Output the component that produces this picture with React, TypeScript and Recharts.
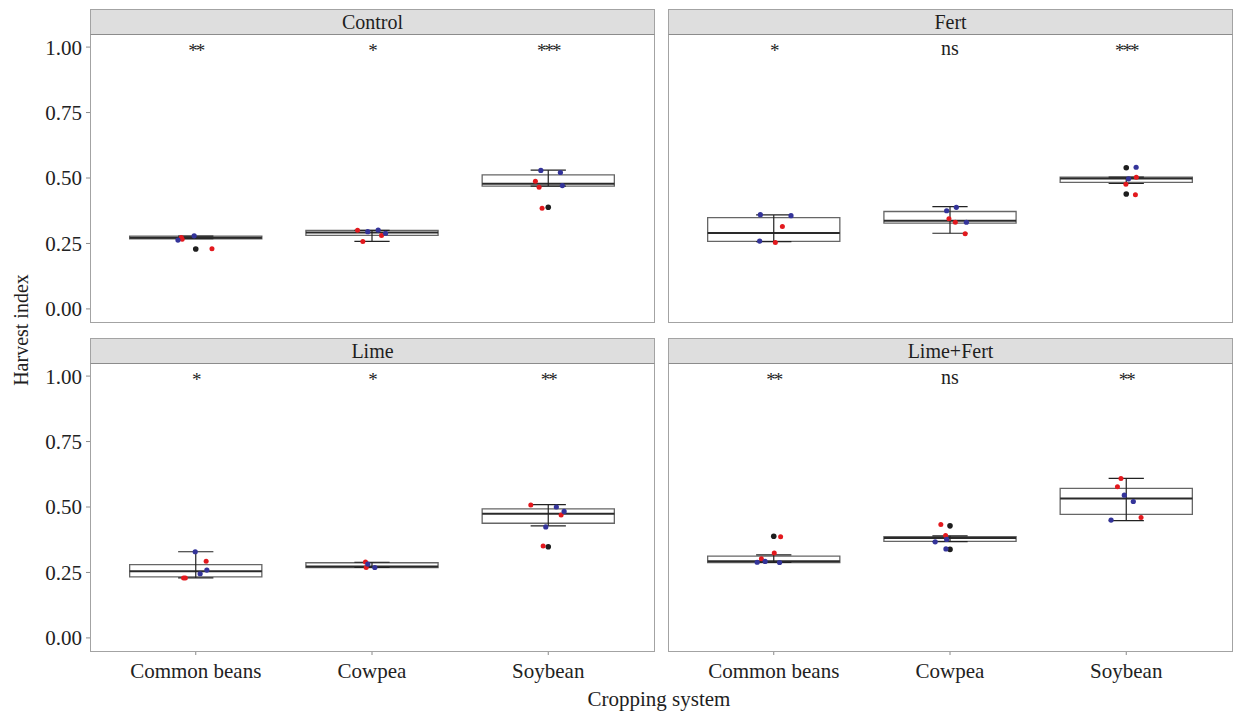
import { JSX } from 'react'
import { ComposedChart, XAxis, YAxis, Scatter, ReferenceArea, ReferenceLine } from 'recharts'

const crops = ['Common beans', 'Cowpea', 'Soybean']
const yTicks = [0, 0.25, 0.5, 0.75, 1]

// Box statistics per crop: [lower whisker, Q1, median, Q3, upper whisker]
const controlBox = [
  [0.268, 0.268, 0.272, 0.278, 0.278],
  [0.258, 0.281, 0.292, 0.3, 0.3],
  [0.469, 0.469, 0.478, 0.512, 0.53]
]
const fertBox = [
  [0.257, 0.258, 0.29, 0.349, 0.359],
  [0.289, 0.328, 0.337, 0.372, 0.391],
  [0.479, 0.483, 0.498, 0.503, 0.503]
]
const limeBox = [
  [0.229, 0.233, 0.255, 0.28, 0.329],
  [0.269, 0.269, 0.273, 0.287, 0.289],
  [0.428, 0.438, 0.474, 0.493, 0.509]
]
const limeFertBox = [
  [0.288, 0.288, 0.293, 0.312, 0.317],
  [0.368, 0.369, 0.382, 0.387, 0.39],
  [0.448, 0.472, 0.532, 0.571, 0.609]
]

// Jittered observations: [crop (1-3), jitter, harvest index]
const controlRed = [
  [1, -0.082, 0.273], [1, -0.077, 0.266], [1, 0.092, 0.23],
  [2, -0.082, 0.3], [2, 0.054, 0.28], [2, -0.052, 0.257],
  [3, -0.073, 0.488], [3, -0.052, 0.465], [3, -0.035, 0.384]
]
const controlBlue = [
  [1, -0.101, 0.263], [1, -0.009, 0.279],
  [2, -0.024, 0.295], [2, 0.035, 0.301], [2, 0.077, 0.289],
  [3, -0.042, 0.529], [3, 0.069, 0.521], [3, 0.08, 0.471]
]
const fertRed = [
  [1, 0.049, 0.315], [1, 0.009, 0.254],
  [2, -0.006, 0.344], [2, 0.03, 0.331], [2, 0.086, 0.287],
  [3, 0.057, 0.503], [3, -0.002, 0.476], [3, 0.052, 0.436]
]
const fertBlue = [
  [1, -0.076, 0.36], [1, 0.098, 0.356], [1, -0.08, 0.259],
  [2, 0.036, 0.388], [2, -0.019, 0.375], [2, 0.093, 0.331],
  [3, 0.056, 0.541], [3, 0.013, 0.497]
]
const limeRed = [
  [1, 0.059, 0.293], [1, -0.069, 0.229], [1, -0.059, 0.229],
  [2, -0.037, 0.29], [2, -0.033, 0.269],
  [3, -0.099, 0.508], [3, 0.073, 0.469], [3, -0.029, 0.351]
]
const limeBlue = [
  [1, -0.003, 0.329], [1, 0.063, 0.259], [1, 0.025, 0.245],
  [2, -0.024, 0.282], [2, 0.016, 0.269],
  [3, 0.046, 0.5], [3, 0.09, 0.483], [3, -0.014, 0.424]
]
const limeFertRed = [
  [1, 0.039, 0.386], [1, 0.003, 0.324], [1, -0.07, 0.302],
  [2, -0.052, 0.433], [2, -0.025, 0.391],
  [3, -0.03, 0.609], [3, -0.05, 0.577], [3, 0.084, 0.46]
]
const limeFertBlue = [
  [1, -0.094, 0.289], [1, -0.049, 0.292], [1, 0.033, 0.288],
  [2, -0.019, 0.376], [2, -0.084, 0.367], [2, -0.023, 0.34],
  [3, -0.011, 0.545], [3, 0.04, 0.521], [3, -0.086, 0.45]
]

// Boxplot outliers: [crop, harvest index]
const controlOut = [[1, 0.229], [3, 0.388]]
const fertOut = [[3, 0.539], [3, 0.439]]
const limeOut = [[3, 0.348]]
const limeFertOut = [[1, 0.388], [2, 0.428], [2, 0.338]]

// Significance labels per crop
const controlSig = ['**', '*', '***']
const fertSig = ['*', 'ns', '***']
const limeSig = ['*', '*', '**']
const limeFertSig = ['**', 'ns', '**']

const FONT = 'Liberation Serif'
const BOX_HALF = 0.375
const CAP_HALF = 0.1

interface PanelProps {
  box: number[][]
  red: number[][]
  blue: number[][]
  out: number[][]
  sig: string[]
  showX: boolean
  showY: boolean
}

function Panel({ box, red, blue, out, sig, showX, showY }: PanelProps): JSX.Element {
  const jit = (rows: number[][]) => rows.map(([c, j, v]) => ({ x: c + j, y: v }))
  const outPts = out.map(([c, v]) => ({ x: c, y: v }))
  const sigPts = sig.map((s, i) => ({ x: i + 1, y: 1, label: s }))
  const dot = (color: string, r: number) => (p: any) => (
    <circle cx={p.cx} cy={p.cy} r={r} fill={color} />
  )

  return (
    <ComposedChart
      width={(showY ? 90 : 0) + 564}
      height={288 + (showX ? 40 : 0)}
      margin={{ top: 0, right: 0, bottom: 0, left: 0 }}
      style={{ fontFamily: FONT }}
    >
      <XAxis
        type="number"
        dataKey="x"
        domain={[0.4, 3.6]}
        allowDataOverflow
        ticks={[1, 2, 3]}
        tickFormatter={(v) => crops[v - 1]}
        hide={!showX}
        height={40}
        axisLine={false}
        tickLine={{ stroke: '#8a8a8a' }}
        tickSize={4}
        tickMargin={8}
        tick={{ fill: '#222', fontSize: 21, fontFamily: FONT }}
        interval={0}
      />
      <YAxis
        type="number"
        dataKey="y"
        domain={[-0.05, 1.05]}
        allowDataOverflow
        ticks={yTicks}
        tickFormatter={(v) => v.toFixed(2)}
        hide={!showY}
        width={90}
        axisLine={false}
        tickLine={{ stroke: '#8a8a8a' }}
        tickSize={4}
        tickMargin={4}
        tick={{ fill: '#222', fontSize: 21, fontFamily: FONT }}
        interval={0}
      />
      {box.map(([lo, q1, md, q3, hi], i) => (
        <ReferenceArea
          key={`box-${i}`}
          x1={i + 1 - BOX_HALF}
          x2={i + 1 + BOX_HALF}
          y1={q1}
          y2={q3}
          fill="#fff"
          fillOpacity={1}
          stroke="#666"
          strokeWidth={1.3}
        />
      ))}
      {box.map(([lo, q1, md, q3, hi], i) => (
        <ReferenceLine
          key={`med-${i}`}
          segment={[{ x: i + 1 - BOX_HALF, y: md }, { x: i + 1 + BOX_HALF, y: md }]}
          stroke="#2a2a2a"
          strokeWidth={2}
        />
      ))}
      {box.map(([lo, q1, md, q3, hi], i) => (
        <ReferenceLine
          key={`wv-${i}`}
          segment={[{ x: i + 1, y: lo }, { x: i + 1, y: hi }]}
          stroke="#222"
          strokeWidth={1.2}
        />
      ))}
      {box.map(([lo, q1, md, q3, hi], i) => (
        <ReferenceLine
          key={`wh-${i}`}
          segment={[{ x: i + 1 - CAP_HALF, y: hi }, { x: i + 1 + CAP_HALF, y: hi }]}
          stroke="#222"
          strokeWidth={1.2}
        />
      ))}
      {box.map(([lo, q1, md, q3, hi], i) => (
        <ReferenceLine
          key={`wl-${i}`}
          segment={[{ x: i + 1 - CAP_HALF, y: lo }, { x: i + 1 + CAP_HALF, y: lo }]}
          stroke="#222"
          strokeWidth={1.2}
        />
      ))}
      <Scatter data={outPts} shape={dot('#1e1e1e', 2.8)} isAnimationActive={false} />
      <Scatter data={jit(red)} shape={dot('#e3191e', 2.5)} isAnimationActive={false} />
      <Scatter data={jit(blue)} shape={dot('#34349a', 2.6)} isAnimationActive={false} />
      <Scatter
        data={sigPts}
        isAnimationActive={false}
        shape={(p: any) => {
          const ns = p.payload.label === 'ns'
          return (
            <text
              x={p.cx}
              y={p.cy + (ns ? 8 : 10)}
              textAnchor="middle"
              fontSize={ns ? 20 : 19}
              fontFamily={FONT}
              fill="#1e1e1e"
              letterSpacing={ns ? 0 : -2}
            >
              {p.payload.label}
            </text>
          )
        }}
      />
    </ComposedChart>
  )
}

function Strip({ left, top, label }: { left: number; top: number; label: string }): JSX.Element {
  return (
    <div
      style={{
        position: 'absolute',
        left,
        top,
        width: 565,
        height: 26,
        boxSizing: 'border-box',
        background: '#dedede',
        border: '1px solid #a3a3a3',
        borderBottom: '1px solid #8c8c8c',
        textAlign: 'center',
        lineHeight: '24px',
        fontSize: 20,
        color: '#1e1e1e'
      }}
    >
      {label}
    </div>
  )
}

function Frame({ left, top }: { left: number; top: number }): JSX.Element {
  return (
    <div
      style={{
        position: 'absolute',
        left,
        top,
        width: 565,
        height: 289,
        boxSizing: 'border-box',
        border: '1px solid #a3a3a3',
        pointerEvents: 'none'
      }}
    />
  )
}

export default function App(): JSX.Element {
  return (
    <div
      style={{
        position: 'absolute',
        left: 0,
        top: 0,
        width: 1234,
        height: 714,
        background: '#fff',
        fontFamily: FONT,
        overflow: 'hidden'
      }}
    >
      <div style={{ position: 'absolute', left: 0, top: 34 }}>
        <Panel box={controlBox} red={controlRed} blue={controlBlue} out={controlOut} sig={controlSig} showX={false} showY />
      </div>
      <div style={{ position: 'absolute', left: 668, top: 34 }}>
        <Panel box={fertBox} red={fertRed} blue={fertBlue} out={fertOut} sig={fertSig} showX={false} showY={false} />
      </div>
      <div style={{ position: 'absolute', left: 0, top: 363 }}>
        <Panel box={limeBox} red={limeRed} blue={limeBlue} out={limeOut} sig={limeSig} showX showY />
      </div>
      <div style={{ position: 'absolute', left: 668, top: 363 }}>
        <Panel box={limeFertBox} red={limeFertRed} blue={limeFertBlue} out={limeFertOut} sig={limeFertSig} showX showY={false} />
      </div>

      <Frame left={90} top={34} />
      <Frame left={668} top={34} />
      <Frame left={90} top={363} />
      <Frame left={668} top={363} />

      <Strip left={90} top={9} label="Control" />
      <Strip left={668} top={9} label="Fert" />
      <Strip left={90} top={338} label="Lime" />
      <Strip left={668} top={338} label="Lime+Fert" />

      {/* axis titles */}
      <div
        style={{
          position: 'absolute',
          left: 21 - 100,
          top: 330 - 12,
          width: 200,
          height: 24,
          lineHeight: '24px',
          textAlign: 'center',
          fontSize: 20,
          color: '#1e1e1e',
          transform: 'rotate(-90deg)'
        }}
      >
        Harvest index
      </div>
      <div
        style={{
          position: 'absolute',
          left: 459,
          top: 687,
          width: 400,
          height: 24,
          lineHeight: '24px',
          textAlign: 'center',
          fontSize: 21,
          color: '#1e1e1e'
        }}
      >
        Cropping system
      </div>
    </div>
  )
}
